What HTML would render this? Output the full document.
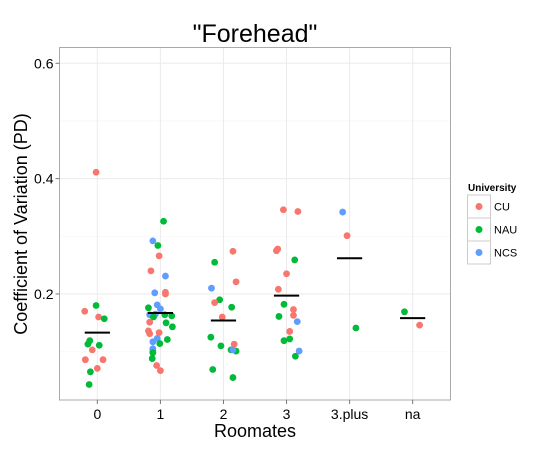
<!DOCTYPE html>
<html><head><meta charset="utf-8"><style>
body{margin:0;background:#fff;font-family:"Liberation Sans",Arial,sans-serif}
svg{display:block}
</style></head><body>
<svg id="chart" width="550" height="450">
<text x="255" y="42" font-size="25" text-anchor="middle" fill="#000">"Forehead"</text>
<g id="grid"></g>
<g id="marks"></g>
<g id="axes"></g>
<text x="255" y="437" font-size="18" text-anchor="middle" fill="#000">Roomates</text>
<text x="0" y="0" font-size="18" text-anchor="middle" fill="#000" transform="translate(27,224) rotate(-90)">Coefficient of Variation (PD)</text>
<g>
<text x="468" y="191" font-size="10" font-weight="bold" fill="#000">University</text>
<g><rect x="467.5" y="195" width="23" height="23" fill="#fff" stroke="#ccc"/><circle cx="479" cy="206.5" r="3.5" fill="#F8766D"/><text x="494" y="210.5" font-size="11" fill="#000">CU</text></g>
<g><rect x="467.5" y="218" width="23" height="23" fill="#fff" stroke="#ccc"/><circle cx="479" cy="229.5" r="3.5" fill="#00BA38"/><text x="494" y="233.5" font-size="11" fill="#000">NAU</text></g>
<g><rect x="467.5" y="241" width="23" height="23" fill="#fff" stroke="#ccc"/><circle cx="479" cy="252.5" r="3.5" fill="#619CFF"/><text x="494" y="256.5" font-size="11" fill="#000">NCS</text></g>
</g>
</svg>
<script>
const categories=["0","1","2","3","3.plus","na"];
const yTicks=[0.2,0.4,0.6];
const yMinor=[0.1,0.3,0.5];
const means=[0.133,0.167,0.154,0.197,0.262,0.158];
// points: category index, jitter (category units), value, university
const ptCat=[0,0,0,0,0,0,0,0,0,0,0,0,0,0,
1,1,1,1,1,1,1,1,1,1,1,1,1,1,1,1,1,1,1,1,1,1,1,1,1,1,1,1,1,1,1,1,1,
2,2,2,2,2,2,2,2,2,2,2,2,2,2,2,2,
3,3,3,3,3,3,3,3,3,3,3,3,3,3,3,3,3,
4,4,4,5,5];
const ptJit=[-0.02,-0.02,-0.20,0.02,0.11,-0.12,-0.15,0.03,-0.08,-0.19,0.09,0,-0.11,-0.13,
0.05,-0.12,-0.04,-0.02,-0.15,0.08,-0.09,0.08,0.08,-0.19,-0.05,0,-0.17,-0.08,0.07,0.18,-0.11,-0.17,0.09,0.19,-0.19,-0.17,-0.02,-0.05,0.11,-0.12,-0.01,-0.12,-0.12,-0.12,-0.13,-0.06,0,
0.15,-0.14,0.20,-0.19,-0.06,-0.14,0.13,-0.02,-0.2,-0.04,0.17,0.12,0.2,0.15,-0.17,0.15,
-0.05,0.18,-0.16,-0.14,0.13,0,-0.13,-0.04,0.11,-0.12,0.11,0.17,0.05,0.05,-0.04,0.2,0.14,
-0.11,-0.04,0.1,-0.13,0.11];
const ptVal=[0.411,0.180,0.170,0.160,0.157,0.119,0.113,0.111,0.103,0.086,0.086,0.071,0.065,0.043,
0.326,0.292,0.284,0.266,0.240,0.231,0.202,0.203,0.200,0.176,0.181,0.174,0.164,0.165,0.164,0.162,0.160,0.151,0.150,0.143,0.136,0.131,0.133,0.123,0.121,0.117,0.114,0.105,0.102,0.098,0.088,0.076,0.067,
0.274,0.255,0.221,0.210,0.190,0.185,0.177,0.160,0.125,0.110,0.113,0.103,0.101,0.103,0.069,0.055,
0.346,0.343,0.275,0.278,0.259,0.235,0.208,0.182,0.173,0.161,0.163,0.152,0.135,0.122,0.119,0.101,0.092,
0.342,0.301,0.141,0.169,0.146];
const ptUni=["CU","NAU","CU","CU","NAU","NAU","NAU","NAU","CU","CU","CU","CU","NAU","NAU",
"NAU","NCS","NAU","CU","CU","NCS","NCS","CU","CU","NAU","NCS","NCS","NCS","NCS","NAU","NAU","NAU","CU","NAU","NAU","CU","CU","CU","NCS","NAU","NCS","NAU","NCS","NCS","NAU","NAU","CU","CU",
"CU","NAU","CU","NCS","NAU","CU","NAU","CU","NAU","NAU","CU","NAU","NAU","NCS","NAU","NAU",
"CU","CU","CU","CU","NAU","CU","CU","NAU","CU","NAU","CU","NCS","CU","NAU","NAU","NCS","NAU",
"NCS","CU","NAU","NAU","CU"];
const colors={CU:"#F8766D",NAU:"#00BA38",NCS:"#619CFF"};
const L=59.5,R=450.5,T=47.5,B=400;
const step=(R-L)/6.2;
function xs(c){return L+(c+0.6)*step;}
function ys(v){return 409.3-v*576.75;}
const NS="http://www.w3.org/2000/svg";
function mk(tag,attrs,parent){const e=document.createElementNS(NS,tag);for(const k in attrs)e.setAttribute(k,attrs[k]);parent.appendChild(e);return e;}
const grid=document.getElementById('grid'),marks=document.getElementById('marks'),axes=document.getElementById('axes');
const bg=mk('rect',{x:L,y:T,width:R-L,height:B-T,fill:'#fff'},grid);


yMinor.forEach(v=>{const l=mk('line',{x1:L,x2:R,y1:ys(v),y2:ys(v),stroke:'#f5f5f5','stroke-width':0.6},grid);

});
yTicks.forEach(v=>{const l=mk('line',{x1:L,x2:R,y1:ys(v),y2:ys(v),stroke:'#ebebeb','stroke-width':1},grid);

});
categories.forEach((c,i)=>{const l=mk('line',{x1:xs(i),x2:xs(i),y1:T,y2:B,stroke:'#ebebeb','stroke-width':1},grid);

});
ptVal.forEach((v,i)=>{const c=mk('circle',{cx:xs(ptCat[i]+ptJit[i]),cy:ys(v),r:3.4,fill:colors[ptUni[i]]},marks);

});
means.forEach((m,i)=>{const l=mk('line',{x1:xs(i-0.2),x2:xs(i+0.2),y1:ys(m),y2:ys(m),stroke:'#000','stroke-width':2},marks);

});
const border=mk('rect',{x:L,y:T,width:R-L,height:B-T,fill:'none',stroke:'#aaa','stroke-width':1},axes);


yTicks.forEach(v=>{const t=mk('line',{x1:L-4,x2:L,y1:ys(v),y2:ys(v),stroke:'#777'},axes);


const tx=mk('text',{x:L-6,y:ys(v)+5,'font-size':14,'text-anchor':'end',fill:'#000'},axes);tx.textContent=v.toFixed(1);

});
categories.forEach((c,i)=>{const t=mk('line',{x1:xs(i),x2:xs(i),y1:B,y2:B+4,stroke:'#777'},axes);


const tx=mk('text',{x:xs(i),y:B+19,'font-size':14,'text-anchor':'middle',fill:'#000'},axes);tx.textContent=c;

});
</script>
</body></html>
